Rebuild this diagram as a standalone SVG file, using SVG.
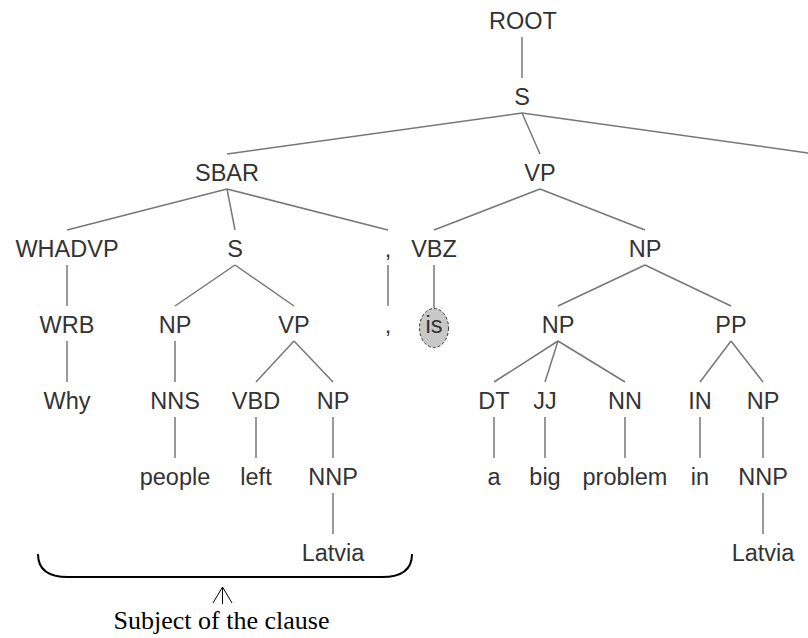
<svg xmlns="http://www.w3.org/2000/svg" width="808" height="638" viewBox="0 0 808 638">
<style>
.t{font-family:"Liberation Sans",Arial,sans-serif;font-size:23.5px;fill:#333;text-anchor:middle}
.e line{stroke:#777;stroke-width:1.5}
.cap{font-family:"Liberation Serif","Times New Roman",serif;font-size:26px;fill:#000;text-anchor:middle}
</style>
<rect width="808" height="638" fill="#fff"/>
<g id="connectors" class="e">
<line x1="522" y1="37" x2="522" y2="78"/>
<line x1="522" y1="113" x2="227" y2="154"/>
<line x1="522" y1="113" x2="540" y2="154"/>
<line x1="522" y1="113" x2="808" y2="153"/>
<line x1="227" y1="189" x2="67" y2="230"/>
<line x1="227" y1="189" x2="235" y2="230"/>
<line x1="227" y1="189" x2="388" y2="230"/>
<line x1="540" y1="189" x2="434" y2="230"/>
<line x1="540" y1="189" x2="645" y2="230"/>
<line x1="67" y1="265" x2="67" y2="306"/>
<line x1="235" y1="265" x2="175" y2="306"/>
<line x1="235" y1="265" x2="294" y2="306"/>
<line x1="388" y1="265" x2="388" y2="306"/>
<line x1="434" y1="265" x2="434" y2="308"/>
<line x1="645" y1="265" x2="558" y2="306"/>
<line x1="645" y1="265" x2="731" y2="306"/>
<line x1="67" y1="341" x2="67" y2="382"/>
<line x1="175" y1="341" x2="175" y2="382"/>
<line x1="294" y1="341" x2="256" y2="382"/>
<line x1="294" y1="341" x2="333" y2="382"/>
<line x1="558" y1="341" x2="494" y2="382"/>
<line x1="558" y1="341" x2="545" y2="382"/>
<line x1="558" y1="341" x2="625" y2="382"/>
<line x1="731" y1="341" x2="700" y2="382"/>
<line x1="731" y1="341" x2="763" y2="382"/>
<line x1="175" y1="417" x2="175" y2="458"/>
<line x1="256" y1="417" x2="256" y2="458"/>
<line x1="333" y1="417" x2="333" y2="458"/>
<line x1="494" y1="417" x2="494" y2="458"/>
<line x1="545" y1="417" x2="545" y2="458"/>
<line x1="625" y1="417" x2="625" y2="458"/>
<line x1="700" y1="417" x2="700" y2="458"/>
<line x1="763" y1="417" x2="763" y2="458"/>
<line x1="333" y1="493" x2="333" y2="534"/>
<line x1="763" y1="493" x2="763" y2="534"/>
</g>
<g id="n-root"><text class="t" x="523" y="29">ROOT</text></g>
<g id="n-s"><text class="t" x="522" y="105">S</text></g>
<g id="n-sbar"><text class="t" x="227" y="181">SBAR</text></g>
<g id="n-vp"><text class="t" x="540" y="181">VP</text></g>
<g id="n-whadvp"><text class="t" x="67" y="257">WHADVP</text></g>
<g id="n-s2"><text class="t" x="235" y="257">S</text></g>
<g id="n-comma1"><text class="t" x="388" y="257">,</text></g>
<g id="n-vbz"><text class="t" x="434" y="257">VBZ</text></g>
<g id="n-np1"><text class="t" x="645" y="257">NP</text></g>
<g id="n-wrb"><text class="t" x="67" y="333">WRB</text></g>
<g id="n-np2"><text class="t" x="175" y="333">NP</text></g>
<g id="n-vp2"><text class="t" x="294" y="333">VP</text></g>
<g id="n-comma2"><text class="t" x="388" y="333">,</text></g>
<g id="n-is"><ellipse cx="434" cy="328" rx="14.5" ry="19.5" fill="#c8c8c8" stroke="#333" stroke-width="1" stroke-dasharray="3,2"/><text class="t" x="434" y="333">is</text></g>
<g id="n-np3"><text class="t" x="558" y="333">NP</text></g>
<g id="n-pp"><text class="t" x="731" y="333">PP</text></g>
<g id="n-why"><text class="t" x="67" y="409">Why</text></g>
<g id="n-nns"><text class="t" x="175" y="409">NNS</text></g>
<g id="n-vbd"><text class="t" x="256" y="409">VBD</text></g>
<g id="n-np4"><text class="t" x="333" y="409">NP</text></g>
<g id="n-dt"><text class="t" x="494" y="409">DT</text></g>
<g id="n-jj"><text class="t" x="545" y="409">JJ</text></g>
<g id="n-nn"><text class="t" x="625" y="409">NN</text></g>
<g id="n-in"><text class="t" x="700" y="409">IN</text></g>
<g id="n-np5"><text class="t" x="763" y="409">NP</text></g>
<g id="n-people"><text class="t" x="175" y="485">people</text></g>
<g id="n-left"><text class="t" x="256" y="485">left</text></g>
<g id="n-nnp1"><text class="t" x="333" y="485">NNP</text></g>
<g id="n-a"><text class="t" x="494" y="485">a</text></g>
<g id="n-big"><text class="t" x="545" y="485">big</text></g>
<g id="n-problem"><text class="t" x="625" y="485">problem</text></g>
<g id="n-in2"><text class="t" x="700" y="485">in</text></g>
<g id="n-nnp2"><text class="t" x="763" y="485">NNP</text></g>
<g id="n-latvia1"><text class="t" x="333" y="561">Latvia</text></g>
<g id="n-latvia2"><text class="t" x="763" y="561">Latvia</text></g>
<g id="brace">
<path d="M38 554 Q38 577 68 577 L382 577 Q412 577 412 554" fill="none" stroke="#000" stroke-width="2"/>
<path d="M213 603 L222.5 587 L232 603 M222.5 587 L222.5 604" fill="none" stroke="#000" stroke-width="1"/>
<text class="cap" x="221.5" y="629">Subject of the clause</text>
</g>
</svg>
